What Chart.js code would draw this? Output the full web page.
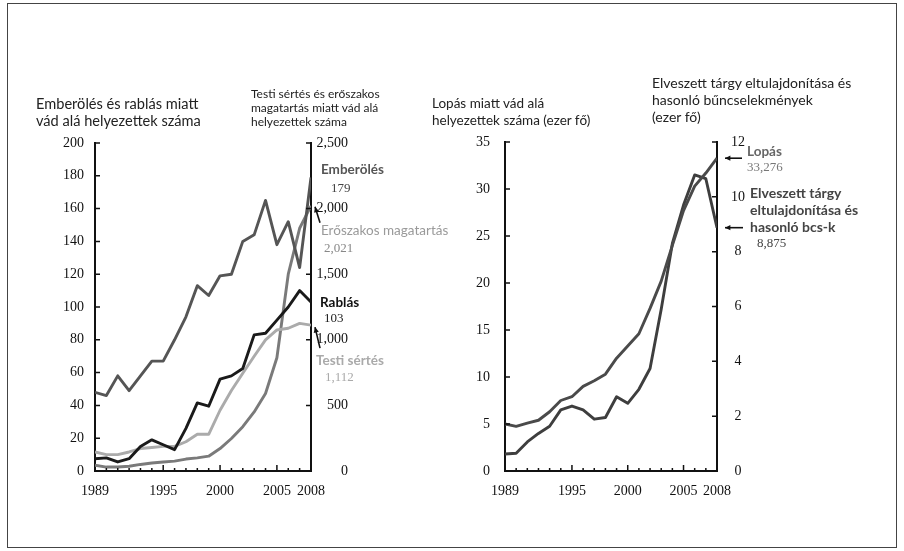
<!DOCTYPE html>
<html>
<head>
<meta charset="utf-8">
<script src="https://cdn.jsdelivr.net/npm/chart.js@4"></script>
<style>
  body { margin: 0; background: #fff; }
  #wrap { position: relative; width: 904px; height: 551px; overflow: hidden; }
  #frame { position: absolute; left: 7px; top: 3px; width: 888px; height: 543px; border: 1px solid #444; }
  canvas { position: absolute; top: 0; }
  .t { position: absolute; font-family: Lato, sans-serif; color: #222; white-space: nowrap; }
  .n { position: absolute; font-family: "Liberation Serif", serif; font-size: 13px; white-space: nowrap; }
</style>
</head>
<body>
<div id="wrap">
  <div id="frame"></div>
  <canvas id="left" width="470" height="551" style="left:0"></canvas>
  <canvas id="right" width="464" height="551" style="left:440px"></canvas>

  <div class="t" style="left:36px;top:95px;font-size:14.6px;line-height:17px">Emberölés és rablás miatt<br>vád alá helyezettek száma</div>
  <div class="t" style="left:251px;top:87px;font-size:12px;line-height:14px">Testi sértés és erőszakos<br>magatartás miatt vád alá<br>helyezettek száma</div>
  <div class="t" style="left:432px;top:95px;font-size:13.5px;line-height:17px">Lopás miatt vád alá<br>helyezettek száma (ezer fő)</div>
  <div class="t" style="left:652px;top:74px;font-size:14px;line-height:17px">Elveszett tárgy eltulajdonítása és<br>hasonló bűncselekmények<br>(ezer fő)</div>

  <div class="t" style="left:321px;top:161px;font-size:13.5px;font-weight:bold;color:#555">Emberölés</div>
  <div class="n" style="left:331px;top:180px;color:#444">179</div>
  <div class="t" style="left:321px;top:222px;font-size:13.5px;color:#9a9a9a">Erőszakos magatartás</div>
  <div class="n" style="left:324px;top:240px;color:#888">2,021</div>
  <div class="t" style="left:320px;top:294px;font-size:13.5px;font-weight:bold;color:#111">Rablás</div>
  <div class="n" style="left:324px;top:310px;color:#222">103</div>
  <div class="t" style="left:316px;top:352px;font-size:13.5px;font-weight:bold;color:#aaa">Testi sértés</div>
  <div class="n" style="left:325px;top:369px;color:#aaa">1,112</div>

  <div class="t" style="left:747px;top:143px;font-size:13.5px;font-weight:bold;color:#666">Lopás</div>
  <div class="n" style="left:747px;top:159px;color:#777">33,276</div>
  <div class="t" style="left:750px;top:184px;font-size:14px;font-weight:bold;color:#444;line-height:17px">Elveszett tárgy<br>eltulajdonítása és<br>hasonló bcs-k</div>
  <div class="n" style="left:757px;top:235px;color:#444">8,875</div>
</div>

<script>
// data
const years = [1989, 1990, 1991, 1992, 1993, 1994, 1995, 1996, 1997, 1998,
  1999, 2000, 2001, 2002, 2003, 2004, 2005, 2006, 2007, 2008];
const yearTicks = [1989, 1995, 2000, 2005, 2008];

// left panel, left axis (persons)
const emberoles = [48, 46, 58, 49, 58, 67, 67, 80, 94, 113, 107, 119, 120, 140, 144, 165, 138, 152, 124, 179];
const rablas = [7.5, 8, 5.5, 7.5, 15, 19, 16, 13, 26, 41.5, 39.5, 56, 58, 62.5, 83, 84, 92, 100, 110, 103];
// left panel, right axis (persons)
const testiSertes = [145, 125, 125, 145, 171, 179, 188, 188, 223, 280, 280, 463, 613, 745, 875, 1000, 1075, 1088, 1125, 1112];
const eroszakos = [44, 30, 30, 36, 50, 61, 69, 75, 91, 100, 113, 171, 248, 338, 450, 591, 863, 1500, 1850, 2021];

// right panel (thousand persons)
const lopas = [5.0, 4.75, 5.1, 5.4, 6.3, 7.5, 7.9, 9.0, 9.6, 10.3, 12.0, 13.3, 14.6, 17.3, 20.2, 24.0, 27.7, 30.3, 31.7, 33.276];
const elveszett = [0.62, 0.65, 1.06, 1.37, 1.63, 2.23, 2.37, 2.23, 1.89, 1.95, 2.71, 2.47, 2.98, 3.74, 5.9, 8.3, 9.7, 10.8, 10.66, 8.875];

const leftTicksA = [0, 20, 40, 60, 80, 100, 120, 140, 160, 180, 200];
const rightTicksA = [0, 500, 1000, 1500, 2000, 2500];
const leftTicksB = [0, 5, 10, 15, 20, 25, 30, 35];
const rightTicksB = [0, 2, 4, 6, 8, 10, 12];

const serif = { family: "'Liberation Serif', serif", size: 14 };
const pts = arr => arr.map((v, i) => ({ x: years[i], y: v }));

function line(label, arr, axis, color) {
  return { label, data: pts(arr), yAxisID: axis, borderColor: color, borderWidth: 2.9,
    pointRadius: 0, tension: 0, fill: false, borderJoinStyle: 'round' };
}

function yScale(pos, min, max, ticks, opts) {
  return {
    type: 'linear', position: pos, min, max,
    afterBuildTicks: s => { s.ticks = ticks.map(v => ({ value: v })); },
    afterFit: s => { s.width = opts.width; },
    ticks: { font: serif, color: '#111', padding: opts.padding || 0, crossAlign: opts.align || 'near',
      callback: v => v.toLocaleString('en-US') },
    grid: { display: true, drawOnChartArea: false, drawTicks: !!opts.tl, tickLength: opts.tl || 0, tickColor: 'rgba(0,0,0,0)' },
    border: { display: true, color: '#111', width: 2 }
  };
}

const xScale = {
  type: 'linear', min: 1989, max: 2008,
  afterBuildTicks: s => { s.ticks = yearTicks.map(v => ({ value: v })); },
  afterFit: s => { s.height = 80; },
  ticks: { font: serif, color: '#111', padding: 12, autoSkip: false, maxRotation: 0, callback: v => String(v) },
  grid: { display: false, drawTicks: false },
  border: { display: true, color: '#111', width: 2 }
};

// inward tick marks + arrows pointing at the last values
const marks = {
  id: 'marks',
  afterDraw(chart, args, o) {
    const ctx = chart.ctx, x = chart.scales.x;
    ctx.save();
    ctx.strokeStyle = '#111';
    ctx.lineWidth = 1.5;
    ctx.beginPath();
    const bottom = x.top;
    years.forEach(yr => {
      const px = x.getPixelForValue(yr);
      const len = [1995, 2000, 2005].includes(yr) ? 6 : 3;
      ctx.moveTo(px, bottom); ctx.lineTo(px, bottom - len);
    });
    ['yL', 'yR'].forEach(id => {
      const s = chart.scales[id];
      const ax = id === 'yL' ? s.right : s.left;
      const dir = id === 'yL' ? 1 : -1;
      s.ticks.forEach(t => {
        const py = s.getPixelForValue(t.value);
        ctx.moveTo(ax, py); ctx.lineTo(ax + dir * 5, py);
      });
    });
    ctx.stroke();

    (o.arrows || []).forEach(a => {
      const ds = chart.data.datasets[a.ds];
      const last = ds.data[ds.data.length - 1];
      const tx = x.getPixelForValue(last.x) + a.dx;
      const ty = chart.scales[ds.yAxisID].getPixelForValue(last.y) + a.dy;
      const fx = tx + a.tx, fy = ty + a.ty;
      const ang = Math.atan2(ty - fy, tx - fx);
      ctx.strokeStyle = '#111';
      ctx.fillStyle = '#111';
      ctx.lineWidth = 1.6;
      ctx.beginPath(); ctx.moveTo(fx, fy); ctx.lineTo(tx, ty); ctx.stroke();
      ctx.beginPath();
      ctx.moveTo(tx, ty);
      ctx.lineTo(tx - 6 * Math.cos(ang - 0.45), ty - 6 * Math.sin(ang - 0.45));
      ctx.lineTo(tx - 6 * Math.cos(ang + 0.45), ty - 6 * Math.sin(ang + 0.45));
      ctx.closePath(); ctx.fill();
    });
    ctx.restore();
  }
};

new Chart(document.getElementById('left'), {
  type: 'line',
  data: {
    datasets: [
      line('Emberölés', emberoles, 'yL', '#555'),
      line('Rablás', rablas, 'yL', '#1a1a1a'),
      line('Testi sértés', testiSertes, 'yR', '#ababab'),
      line('Erőszakos magatartás', eroszakos, 'yR', '#7a7a7a')
    ]
  },
  options: {
    responsive: false, animation: false,
    layout: { padding: { top: 143, right: 122, left: 0, bottom: 0 } },
    plugins: {
      legend: { display: false }, tooltip: { enabled: false },
      marks: { arrows: [{ ds: 3, dx: 4, dy: 1, tx: 5, ty: 16 }, { ds: 2, dx: 4, dy: 2, tx: 5, ty: 21 }] }
    },
    scales: {
      x: xScale,
      yL: yScale('left', 0, 200, leftTicksA, { width: 95, padding: 11 }),
      yR: yScale('right', 0, 2500, rightTicksA, { width: 37, tl: 6, align: 'far' })
    }
  },
  plugins: [marks]
});

new Chart(document.getElementById('right'), {
  type: 'line',
  data: {
    datasets: [
      line('Lopás', lopas, 'yL', '#4a4a4a'),
      line('Elveszett tárgy eltulajdonítása és hasonló bcs-k', elveszett, 'yR', '#3e3e3e')
    ]
  },
  options: {
    responsive: false, animation: false,
    layout: { padding: { top: 142, right: 157, left: 0, bottom: 0 } },
    plugins: {
      legend: { display: false }, tooltip: { enabled: false },
      marks: { arrows: [{ ds: 0, dx: 8, dy: 0, tx: 17, ty: 0 }, { ds: 1, dx: 8, dy: 0, tx: 18, ty: 0 }] }
    },
    scales: {
      x: xScale,
      yL: yScale('left', 0, 35, leftTicksB, { width: 65, padding: 15 }),
      yR: yScale('right', 0, 12, rightTicksB, { width: 30, tl: 14, align: 'center' })
    }
  },
  plugins: [marks]
});
</script>
</body>
</html>
